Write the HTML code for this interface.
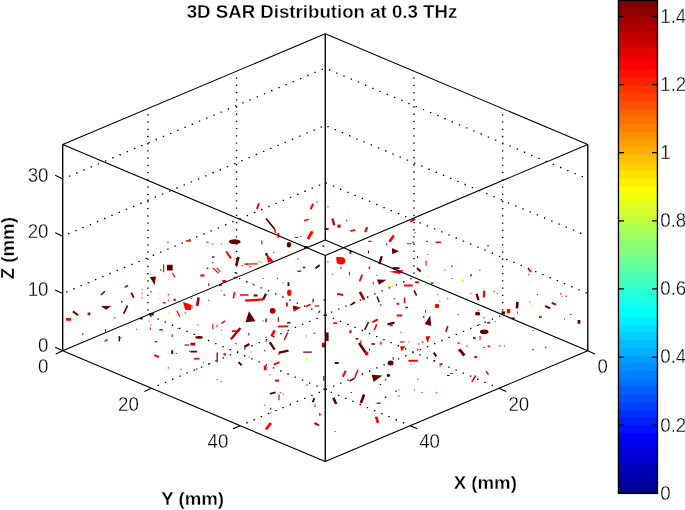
<!DOCTYPE html><html><head><meta charset="utf-8"><title>3D SAR Distribution at 0.3 THz</title>
<style>html,body{margin:0;padding:0;background:#fff;overflow:hidden}svg{display:block}text{font-family:"Liberation Sans",sans-serif;font-size:18.67px;fill:#000;stroke:#fff;stroke-width:0.3px}.b{font-weight:bold;stroke-width:0.3px}</style></head><body>
<svg width="685" height="510" viewBox="0 0 685 510">
<rect width="685" height="510" fill="#fff"/>
<path d="M235.85 77.48h1.4v1.3h-1.4zM235.85 84.7h1.4v1.3h-1.4zM235.85 91.92h1.4v1.3h-1.4zM235.85 99.14h1.4v1.3h-1.4zM235.85 106.36h1.4v1.3h-1.4zM235.85 113.58h1.4v1.3h-1.4zM235.85 120.8h1.4v1.3h-1.4zM235.85 128.02h1.4v1.3h-1.4zM235.85 135.24h1.4v1.3h-1.4zM235.85 142.46h1.4v1.3h-1.4zM235.85 149.68h1.4v1.3h-1.4zM235.85 156.9h1.4v1.3h-1.4zM235.85 164.12h1.4v1.3h-1.4zM235.85 171.34h1.4v1.3h-1.4zM235.85 178.56h1.4v1.3h-1.4zM235.85 185.78h1.4v1.3h-1.4zM235.85 193h1.4v1.3h-1.4zM235.85 200.22h1.4v1.3h-1.4zM235.85 207.44h1.4v1.3h-1.4zM235.85 214.66h1.4v1.3h-1.4zM235.85 221.88h1.4v1.3h-1.4zM235.85 229.1h1.4v1.3h-1.4zM235.85 236.32h1.4v1.3h-1.4zM235.85 243.54h1.4v1.3h-1.4zM235.85 250.76h1.4v1.3h-1.4zM235.85 257.98h1.4v1.3h-1.4zM235.85 265.2h1.4v1.3h-1.4zM235.85 272.42h1.4v1.3h-1.4zM238.85 278.05h1.4v1.3h-1.4zM246.07 281.1h1.4v1.3h-1.4zM253.29 284.14h1.4v1.3h-1.4zM260.51 287.19h1.4v1.3h-1.4zM267.73 290.24h1.4v1.3h-1.4zM274.95 293.28h1.4v1.3h-1.4zM282.17 296.33h1.4v1.3h-1.4zM289.39 299.38h1.4v1.3h-1.4zM296.61 302.42h1.4v1.3h-1.4zM303.83 305.47h1.4v1.3h-1.4zM311.05 308.52h1.4v1.3h-1.4zM318.27 311.56h1.4v1.3h-1.4zM325.49 314.61h1.4v1.3h-1.4zM332.71 317.66h1.4v1.3h-1.4zM339.93 320.71h1.4v1.3h-1.4zM347.15 323.75h1.4v1.3h-1.4zM354.37 326.8h1.4v1.3h-1.4zM361.59 329.85h1.4v1.3h-1.4zM368.81 332.89h1.4v1.3h-1.4zM376.03 335.94h1.4v1.3h-1.4zM383.25 338.99h1.4v1.3h-1.4zM390.47 342.03h1.4v1.3h-1.4zM397.69 345.08h1.4v1.3h-1.4zM404.91 348.13h1.4v1.3h-1.4zM412.13 351.18h1.4v1.3h-1.4zM419.35 354.22h1.4v1.3h-1.4zM426.57 357.27h1.4v1.3h-1.4zM433.79 360.32h1.4v1.3h-1.4zM441.01 363.36h1.4v1.3h-1.4zM448.23 366.41h1.4v1.3h-1.4zM455.45 369.46h1.4v1.3h-1.4zM462.67 372.5h1.4v1.3h-1.4zM469.89 375.55h1.4v1.3h-1.4zM477.11 378.6h1.4v1.3h-1.4zM484.33 381.64h1.4v1.3h-1.4zM491.55 384.69h1.4v1.3h-1.4zM147.15 114.21h1.4v1.3h-1.4zM147.15 121.43h1.4v1.3h-1.4zM147.15 128.65h1.4v1.3h-1.4zM147.15 135.87h1.4v1.3h-1.4zM147.15 143.09h1.4v1.3h-1.4zM147.15 150.31h1.4v1.3h-1.4zM147.15 157.53h1.4v1.3h-1.4zM147.15 164.75h1.4v1.3h-1.4zM147.15 171.97h1.4v1.3h-1.4zM147.15 179.19h1.4v1.3h-1.4zM147.15 186.41h1.4v1.3h-1.4zM147.15 193.63h1.4v1.3h-1.4zM147.15 200.85h1.4v1.3h-1.4zM147.15 208.07h1.4v1.3h-1.4zM147.15 215.29h1.4v1.3h-1.4zM147.15 222.51h1.4v1.3h-1.4zM147.15 229.73h1.4v1.3h-1.4zM147.15 236.95h1.4v1.3h-1.4zM147.15 244.17h1.4v1.3h-1.4zM147.15 251.39h1.4v1.3h-1.4zM147.15 258.61h1.4v1.3h-1.4zM147.15 265.83h1.4v1.3h-1.4zM147.15 273.05h1.4v1.3h-1.4zM147.15 280.27h1.4v1.3h-1.4zM147.15 287.49h1.4v1.3h-1.4zM147.15 294.71h1.4v1.3h-1.4zM147.15 301.93h1.4v1.3h-1.4zM147.15 309.15h1.4v1.3h-1.4zM150.15 315.48h1.4v1.3h-1.4zM157.37 318.53h1.4v1.3h-1.4zM164.59 321.57h1.4v1.3h-1.4zM171.81 324.62h1.4v1.3h-1.4zM179.03 327.67h1.4v1.3h-1.4zM186.25 330.72h1.4v1.3h-1.4zM193.47 333.76h1.4v1.3h-1.4zM200.69 336.81h1.4v1.3h-1.4zM207.91 339.86h1.4v1.3h-1.4zM215.13 342.9h1.4v1.3h-1.4zM222.35 345.95h1.4v1.3h-1.4zM229.57 349h1.4v1.3h-1.4zM236.79 352.04h1.4v1.3h-1.4zM244.01 355.09h1.4v1.3h-1.4zM251.23 358.14h1.4v1.3h-1.4zM258.45 361.19h1.4v1.3h-1.4zM265.67 364.23h1.4v1.3h-1.4zM272.89 367.28h1.4v1.3h-1.4zM280.11 370.33h1.4v1.3h-1.4zM287.33 373.37h1.4v1.3h-1.4zM294.55 376.42h1.4v1.3h-1.4zM301.77 379.47h1.4v1.3h-1.4zM308.99 382.51h1.4v1.3h-1.4zM316.21 385.56h1.4v1.3h-1.4zM323.43 388.61h1.4v1.3h-1.4zM330.65 391.65h1.4v1.3h-1.4zM337.87 394.7h1.4v1.3h-1.4zM345.09 397.75h1.4v1.3h-1.4zM352.31 400.8h1.4v1.3h-1.4zM359.53 403.84h1.4v1.3h-1.4zM366.75 406.89h1.4v1.3h-1.4zM373.97 409.94h1.4v1.3h-1.4zM381.19 412.98h1.4v1.3h-1.4zM388.41 416.03h1.4v1.3h-1.4zM395.63 419.08h1.4v1.3h-1.4zM402.85 422.12h1.4v1.3h-1.4zM413.25 77.48h1.4v1.3h-1.4zM413.25 84.7h1.4v1.3h-1.4zM413.25 91.92h1.4v1.3h-1.4zM413.25 99.14h1.4v1.3h-1.4zM413.25 106.36h1.4v1.3h-1.4zM413.25 113.58h1.4v1.3h-1.4zM413.25 120.8h1.4v1.3h-1.4zM413.25 128.02h1.4v1.3h-1.4zM413.25 135.24h1.4v1.3h-1.4zM413.25 142.46h1.4v1.3h-1.4zM413.25 149.68h1.4v1.3h-1.4zM413.25 156.9h1.4v1.3h-1.4zM413.25 164.12h1.4v1.3h-1.4zM413.25 171.34h1.4v1.3h-1.4zM413.25 178.56h1.4v1.3h-1.4zM413.25 185.78h1.4v1.3h-1.4zM413.25 193h1.4v1.3h-1.4zM413.25 200.22h1.4v1.3h-1.4zM413.25 207.44h1.4v1.3h-1.4zM413.25 214.66h1.4v1.3h-1.4zM413.25 221.88h1.4v1.3h-1.4zM413.25 229.1h1.4v1.3h-1.4zM413.25 236.32h1.4v1.3h-1.4zM413.25 243.54h1.4v1.3h-1.4zM413.25 250.76h1.4v1.3h-1.4zM413.25 257.98h1.4v1.3h-1.4zM413.25 265.2h1.4v1.3h-1.4zM413.25 272.42h1.4v1.3h-1.4zM410.25 278.05h1.4v1.3h-1.4zM403.03 281.1h1.4v1.3h-1.4zM395.81 284.14h1.4v1.3h-1.4zM388.59 287.19h1.4v1.3h-1.4zM381.37 290.24h1.4v1.3h-1.4zM374.15 293.28h1.4v1.3h-1.4zM366.93 296.33h1.4v1.3h-1.4zM359.71 299.38h1.4v1.3h-1.4zM352.49 302.42h1.4v1.3h-1.4zM345.27 305.47h1.4v1.3h-1.4zM338.05 308.52h1.4v1.3h-1.4zM330.83 311.56h1.4v1.3h-1.4zM323.61 314.61h1.4v1.3h-1.4zM316.39 317.66h1.4v1.3h-1.4zM309.17 320.71h1.4v1.3h-1.4zM301.95 323.75h1.4v1.3h-1.4zM294.73 326.8h1.4v1.3h-1.4zM287.51 329.85h1.4v1.3h-1.4zM280.29 332.89h1.4v1.3h-1.4zM273.07 335.94h1.4v1.3h-1.4zM265.85 338.99h1.4v1.3h-1.4zM258.63 342.03h1.4v1.3h-1.4zM251.41 345.08h1.4v1.3h-1.4zM244.19 348.13h1.4v1.3h-1.4zM236.97 351.18h1.4v1.3h-1.4zM229.75 354.22h1.4v1.3h-1.4zM222.53 357.27h1.4v1.3h-1.4zM215.31 360.32h1.4v1.3h-1.4zM208.09 363.36h1.4v1.3h-1.4zM200.87 366.41h1.4v1.3h-1.4zM193.65 369.46h1.4v1.3h-1.4zM186.43 372.5h1.4v1.3h-1.4zM179.21 375.55h1.4v1.3h-1.4zM171.99 378.6h1.4v1.3h-1.4zM164.77 381.64h1.4v1.3h-1.4zM157.55 384.69h1.4v1.3h-1.4zM501.95 114.21h1.4v1.3h-1.4zM501.95 121.43h1.4v1.3h-1.4zM501.95 128.65h1.4v1.3h-1.4zM501.95 135.87h1.4v1.3h-1.4zM501.95 143.09h1.4v1.3h-1.4zM501.95 150.31h1.4v1.3h-1.4zM501.95 157.53h1.4v1.3h-1.4zM501.95 164.75h1.4v1.3h-1.4zM501.95 171.97h1.4v1.3h-1.4zM501.95 179.19h1.4v1.3h-1.4zM501.95 186.41h1.4v1.3h-1.4zM501.95 193.63h1.4v1.3h-1.4zM501.95 200.85h1.4v1.3h-1.4zM501.95 208.07h1.4v1.3h-1.4zM501.95 215.29h1.4v1.3h-1.4zM501.95 222.51h1.4v1.3h-1.4zM501.95 229.73h1.4v1.3h-1.4zM501.95 236.95h1.4v1.3h-1.4zM501.95 244.17h1.4v1.3h-1.4zM501.95 251.39h1.4v1.3h-1.4zM501.95 258.61h1.4v1.3h-1.4zM501.95 265.83h1.4v1.3h-1.4zM501.95 273.05h1.4v1.3h-1.4zM501.95 280.27h1.4v1.3h-1.4zM501.95 287.49h1.4v1.3h-1.4zM501.95 294.71h1.4v1.3h-1.4zM501.95 301.93h1.4v1.3h-1.4zM501.95 309.15h1.4v1.3h-1.4zM498.95 315.48h1.4v1.3h-1.4zM491.73 318.53h1.4v1.3h-1.4zM484.51 321.57h1.4v1.3h-1.4zM477.29 324.62h1.4v1.3h-1.4zM470.07 327.67h1.4v1.3h-1.4zM462.85 330.72h1.4v1.3h-1.4zM455.63 333.76h1.4v1.3h-1.4zM448.41 336.81h1.4v1.3h-1.4zM441.19 339.86h1.4v1.3h-1.4zM433.97 342.9h1.4v1.3h-1.4zM426.75 345.95h1.4v1.3h-1.4zM419.53 349h1.4v1.3h-1.4zM412.31 352.04h1.4v1.3h-1.4zM405.09 355.09h1.4v1.3h-1.4zM397.87 358.14h1.4v1.3h-1.4zM390.65 361.19h1.4v1.3h-1.4zM383.43 364.23h1.4v1.3h-1.4zM376.21 367.28h1.4v1.3h-1.4zM368.99 370.33h1.4v1.3h-1.4zM361.77 373.37h1.4v1.3h-1.4zM354.55 376.42h1.4v1.3h-1.4zM347.33 379.47h1.4v1.3h-1.4zM340.11 382.51h1.4v1.3h-1.4zM332.89 385.56h1.4v1.3h-1.4zM325.67 388.61h1.4v1.3h-1.4zM318.45 391.65h1.4v1.3h-1.4zM311.23 394.7h1.4v1.3h-1.4zM304.01 397.75h1.4v1.3h-1.4zM296.79 400.8h1.4v1.3h-1.4zM289.57 403.84h1.4v1.3h-1.4zM282.35 406.89h1.4v1.3h-1.4zM275.13 409.94h1.4v1.3h-1.4zM267.91 412.98h1.4v1.3h-1.4zM260.69 416.03h1.4v1.3h-1.4zM253.47 419.08h1.4v1.3h-1.4zM246.25 422.12h1.4v1.3h-1.4zM66.1 291.14h1.4v1.3h-1.4zM73.32 288.1h1.4v1.3h-1.4zM80.54 285.05h1.4v1.3h-1.4zM87.76 282h1.4v1.3h-1.4zM94.98 278.95h1.4v1.3h-1.4zM102.2 275.91h1.4v1.3h-1.4zM109.42 272.86h1.4v1.3h-1.4zM116.64 269.81h1.4v1.3h-1.4zM123.86 266.77h1.4v1.3h-1.4zM131.08 263.72h1.4v1.3h-1.4zM138.3 260.67h1.4v1.3h-1.4zM145.52 257.63h1.4v1.3h-1.4zM152.74 254.58h1.4v1.3h-1.4zM159.96 251.53h1.4v1.3h-1.4zM167.18 248.48h1.4v1.3h-1.4zM174.4 245.44h1.4v1.3h-1.4zM181.62 242.39h1.4v1.3h-1.4zM188.84 239.34h1.4v1.3h-1.4zM196.06 236.3h1.4v1.3h-1.4zM203.28 233.25h1.4v1.3h-1.4zM210.5 230.2h1.4v1.3h-1.4zM217.72 227.16h1.4v1.3h-1.4zM224.94 224.11h1.4v1.3h-1.4zM232.16 221.06h1.4v1.3h-1.4zM239.38 218.02h1.4v1.3h-1.4zM246.6 214.97h1.4v1.3h-1.4zM253.82 211.92h1.4v1.3h-1.4zM261.04 208.87h1.4v1.3h-1.4zM268.26 205.83h1.4v1.3h-1.4zM275.48 202.78h1.4v1.3h-1.4zM282.7 199.73h1.4v1.3h-1.4zM289.92 196.69h1.4v1.3h-1.4zM297.14 193.64h1.4v1.3h-1.4zM304.36 190.59h1.4v1.3h-1.4zM311.58 187.55h1.4v1.3h-1.4zM318.8 184.5h1.4v1.3h-1.4zM325.6 182.52h1.4v1.3h-1.4zM332.82 185.56h1.4v1.3h-1.4zM340.04 188.61h1.4v1.3h-1.4zM347.26 191.66h1.4v1.3h-1.4zM354.48 194.7h1.4v1.3h-1.4zM361.7 197.75h1.4v1.3h-1.4zM368.92 200.8h1.4v1.3h-1.4zM376.14 203.84h1.4v1.3h-1.4zM383.36 206.89h1.4v1.3h-1.4zM390.58 209.94h1.4v1.3h-1.4zM397.8 212.98h1.4v1.3h-1.4zM405.02 216.03h1.4v1.3h-1.4zM412.24 219.08h1.4v1.3h-1.4zM419.46 222.13h1.4v1.3h-1.4zM426.68 225.17h1.4v1.3h-1.4zM433.9 228.22h1.4v1.3h-1.4zM441.12 231.27h1.4v1.3h-1.4zM448.34 234.31h1.4v1.3h-1.4zM455.56 237.36h1.4v1.3h-1.4zM462.78 240.41h1.4v1.3h-1.4zM470 243.45h1.4v1.3h-1.4zM477.22 246.5h1.4v1.3h-1.4zM484.44 249.55h1.4v1.3h-1.4zM491.66 252.6h1.4v1.3h-1.4zM498.88 255.64h1.4v1.3h-1.4zM506.1 258.69h1.4v1.3h-1.4zM513.32 261.74h1.4v1.3h-1.4zM520.54 264.78h1.4v1.3h-1.4zM527.76 267.83h1.4v1.3h-1.4zM534.98 270.88h1.4v1.3h-1.4zM542.2 273.92h1.4v1.3h-1.4zM549.42 276.97h1.4v1.3h-1.4zM556.64 280.02h1.4v1.3h-1.4zM563.86 283.06h1.4v1.3h-1.4zM571.08 286.11h1.4v1.3h-1.4zM578.3 289.16h1.4v1.3h-1.4zM585.52 292.21h1.4v1.3h-1.4zM68 233.06h1.4v1.3h-1.4zM75.22 230.02h1.4v1.3h-1.4zM82.44 226.97h1.4v1.3h-1.4zM89.66 223.92h1.4v1.3h-1.4zM96.88 220.87h1.4v1.3h-1.4zM104.1 217.83h1.4v1.3h-1.4zM111.32 214.78h1.4v1.3h-1.4zM118.54 211.73h1.4v1.3h-1.4zM125.76 208.69h1.4v1.3h-1.4zM132.98 205.64h1.4v1.3h-1.4zM140.2 202.59h1.4v1.3h-1.4zM147.42 199.55h1.4v1.3h-1.4zM154.64 196.5h1.4v1.3h-1.4zM161.86 193.45h1.4v1.3h-1.4zM169.08 190.41h1.4v1.3h-1.4zM176.3 187.36h1.4v1.3h-1.4zM183.52 184.31h1.4v1.3h-1.4zM190.74 181.26h1.4v1.3h-1.4zM197.96 178.22h1.4v1.3h-1.4zM205.18 175.17h1.4v1.3h-1.4zM212.4 172.12h1.4v1.3h-1.4zM219.62 169.08h1.4v1.3h-1.4zM226.84 166.03h1.4v1.3h-1.4zM234.06 162.98h1.4v1.3h-1.4zM241.28 159.94h1.4v1.3h-1.4zM248.5 156.89h1.4v1.3h-1.4zM255.72 153.84h1.4v1.3h-1.4zM262.94 150.79h1.4v1.3h-1.4zM270.16 147.75h1.4v1.3h-1.4zM277.38 144.7h1.4v1.3h-1.4zM284.6 141.65h1.4v1.3h-1.4zM291.82 138.61h1.4v1.3h-1.4zM299.04 135.56h1.4v1.3h-1.4zM306.26 132.51h1.4v1.3h-1.4zM313.48 129.47h1.4v1.3h-1.4zM320.7 126.42h1.4v1.3h-1.4zM327.32 125.96h1.4v1.3h-1.4zM334.54 129.01h1.4v1.3h-1.4zM341.76 132.06h1.4v1.3h-1.4zM348.98 135.1h1.4v1.3h-1.4zM356.2 138.15h1.4v1.3h-1.4zM363.42 141.2h1.4v1.3h-1.4zM370.64 144.25h1.4v1.3h-1.4zM377.86 147.29h1.4v1.3h-1.4zM385.08 150.34h1.4v1.3h-1.4zM392.3 153.39h1.4v1.3h-1.4zM399.52 156.43h1.4v1.3h-1.4zM406.74 159.48h1.4v1.3h-1.4zM413.96 162.53h1.4v1.3h-1.4zM421.18 165.57h1.4v1.3h-1.4zM428.4 168.62h1.4v1.3h-1.4zM435.62 171.67h1.4v1.3h-1.4zM442.84 174.71h1.4v1.3h-1.4zM450.06 177.76h1.4v1.3h-1.4zM457.28 180.81h1.4v1.3h-1.4zM464.5 183.86h1.4v1.3h-1.4zM471.72 186.9h1.4v1.3h-1.4zM478.94 189.95h1.4v1.3h-1.4zM486.16 193h1.4v1.3h-1.4zM493.38 196.04h1.4v1.3h-1.4zM500.6 199.09h1.4v1.3h-1.4zM507.82 202.14h1.4v1.3h-1.4zM515.04 205.18h1.4v1.3h-1.4zM522.26 208.23h1.4v1.3h-1.4zM529.48 211.28h1.4v1.3h-1.4zM536.7 214.32h1.4v1.3h-1.4zM543.92 217.37h1.4v1.3h-1.4zM551.14 220.42h1.4v1.3h-1.4zM558.36 223.47h1.4v1.3h-1.4zM565.58 226.51h1.4v1.3h-1.4zM572.8 229.56h1.4v1.3h-1.4zM580.02 232.61h1.4v1.3h-1.4zM68.9 175.4h1.4v1.3h-1.4zM76.12 172.36h1.4v1.3h-1.4zM83.34 169.31h1.4v1.3h-1.4zM90.56 166.26h1.4v1.3h-1.4zM97.78 163.22h1.4v1.3h-1.4zM105 160.17h1.4v1.3h-1.4zM112.22 157.12h1.4v1.3h-1.4zM119.44 154.08h1.4v1.3h-1.4zM126.66 151.03h1.4v1.3h-1.4zM133.88 147.98h1.4v1.3h-1.4zM141.1 144.94h1.4v1.3h-1.4zM148.32 141.89h1.4v1.3h-1.4zM155.54 138.84h1.4v1.3h-1.4zM162.76 135.79h1.4v1.3h-1.4zM169.98 132.75h1.4v1.3h-1.4zM177.2 129.7h1.4v1.3h-1.4zM184.42 126.65h1.4v1.3h-1.4zM191.64 123.61h1.4v1.3h-1.4zM198.86 120.56h1.4v1.3h-1.4zM206.08 117.51h1.4v1.3h-1.4zM213.3 114.47h1.4v1.3h-1.4zM220.52 111.42h1.4v1.3h-1.4zM227.74 108.37h1.4v1.3h-1.4zM234.96 105.32h1.4v1.3h-1.4zM242.18 102.28h1.4v1.3h-1.4zM249.4 99.23h1.4v1.3h-1.4zM256.62 96.18h1.4v1.3h-1.4zM263.84 93.14h1.4v1.3h-1.4zM271.06 90.09h1.4v1.3h-1.4zM278.28 87.04h1.4v1.3h-1.4zM285.5 84h1.4v1.3h-1.4zM292.72 80.95h1.4v1.3h-1.4zM299.94 77.9h1.4v1.3h-1.4zM307.16 74.86h1.4v1.3h-1.4zM314.38 71.81h1.4v1.3h-1.4zM321.6 68.76h1.4v1.3h-1.4zM328.88 69.34h1.4v1.3h-1.4zM336.1 72.39h1.4v1.3h-1.4zM343.32 75.44h1.4v1.3h-1.4zM350.54 78.48h1.4v1.3h-1.4zM357.76 81.53h1.4v1.3h-1.4zM364.98 84.58h1.4v1.3h-1.4zM372.2 87.63h1.4v1.3h-1.4zM379.42 90.67h1.4v1.3h-1.4zM386.64 93.72h1.4v1.3h-1.4zM393.86 96.77h1.4v1.3h-1.4zM401.08 99.81h1.4v1.3h-1.4zM408.3 102.86h1.4v1.3h-1.4zM415.52 105.91h1.4v1.3h-1.4zM422.74 108.95h1.4v1.3h-1.4zM429.96 112h1.4v1.3h-1.4zM437.18 115.05h1.4v1.3h-1.4zM444.4 118.1h1.4v1.3h-1.4zM451.62 121.14h1.4v1.3h-1.4zM458.84 124.19h1.4v1.3h-1.4zM466.06 127.24h1.4v1.3h-1.4zM473.28 130.28h1.4v1.3h-1.4zM480.5 133.33h1.4v1.3h-1.4zM487.72 136.38h1.4v1.3h-1.4zM494.94 139.42h1.4v1.3h-1.4zM502.16 142.47h1.4v1.3h-1.4zM509.38 145.52h1.4v1.3h-1.4zM516.6 148.56h1.4v1.3h-1.4zM523.82 151.61h1.4v1.3h-1.4zM531.04 154.66h1.4v1.3h-1.4zM538.26 157.71h1.4v1.3h-1.4zM545.48 160.75h1.4v1.3h-1.4zM552.7 163.8h1.4v1.3h-1.4zM559.92 166.85h1.4v1.3h-1.4zM567.14 169.89h1.4v1.3h-1.4zM574.36 172.94h1.4v1.3h-1.4zM581.58 175.99h1.4v1.3h-1.4z" fill="#000"/>
<g>
<path d="M160.2 269.2h1.1v1.5h-1.1zM167.4 241.4h1.1v1.9h-1.1zM66.1 318h4.9v2.7h-4.9zM114.1 317.2h1.3v1.3h-1.3zM150.2 291.1h1.3v1.3h-1.3zM167.8 294.1h1.1v1.1h-1.1zM167.8 299.8h1.1v1.1h-1.1zM162.9 302.1h2.7v1.5h-2.7zM173.5 298.8h2.3v2.3h-2.3zM148.4 320.7h1.1v1.1h-1.1zM150.3 324.5h1.1v1.1h-1.1zM184.5 312.5h1.9v1.1h-1.9zM277.5 232.9h1.9v4.8h-1.9zM206.3 241.7h2.3v1.1h-2.3zM212.2 243.6h1.1v1.1h-1.1zM220.9 243.7h1v1h-1zM265.7 252.7L273.7 261.3L267.9 262.6zM273.1 252.2h1.1v1.1h-1.1zM206.5 267.6h1.9v1.5h-1.9zM200.3 274.6h4.2v1.9h-4.2zM233.7 276.7h3.8v1.5h-3.8zM222.3 279.9h3.8v2.7h-3.8zM208.1 283.3h1v2.7h-1zM316.4 201.8h1.1v1.1h-1.1zM294.6 237h3.8v1.1h-3.8zM297.4 258.3h1.1v1.1h-1.1zM297.4 270.6h3.8v1.5h-3.8zM276.9 277.8h1.1v1.1h-1.1zM282.6 282.2h1.1v1.1h-1.1zM252.2 283.5h1.1v1.1h-1.1zM262.7 277.9h1v1h-1zM249.9 265.9h1.1v1.1h-1.1zM189.9 239.4h1v1.9h-1zM337.3 224.4h3.4v3.4h-3.4zM346 219.8h1.1v1.1h-1.1zM368.1 240.8h3.4v1.1h-3.4zM386 243.2h1.1v1.9h-1.1zM336.2 257.1h2.7v2.7h-2.7zM340.3 266.8h1.1v2.3h-1.1zM327.4 261.3h1.1v1.1h-1.1zM331.8 273.7h1.1v1.1h-1.1zM348.9 271.7h1.1v3.8h-1.1zM368.7 266.6h1.5v2.7h-1.5zM388.8 271.7L403.7 269.8L399.8 274zM372.7 281.8h1.1v2.7h-1.1zM376.5 275h1.1v1.1h-1.1zM407 243.2h4.8v1.1h-4.8zM435.6 241.6h5.3v1.3h-5.3zM425.5 260.5h1.1v5.3h-1.1zM426.9 254.1h1v1h-1zM415.1 281.3h3.8v1.9h-3.8zM404.1 284.5h8.6v1.9h-8.6zM431 282.2h2.3v1.9h-2.3zM487.3 245h1.5v1.5h-1.5zM451.3 265h1.1v2.3h-1.1zM528 274.2h1v1h-1zM470.3 292.8h1.1v1h-1.1zM496.6 292.8h1v1h-1zM536.9 294.1h1.1v1.1h-1.1zM529.3 301.4h1v1h-1zM560.3 292.9h1.1v1.5h-1.1zM561.6 295.7h1.1v1h-1.1zM506.8 309.1h3.4v4.2h-3.4zM477.8 309.7h1.5v1h-1.5zM517 311.7h1v1.9h-1zM539 316.1h2.7v1.9h-2.7zM483.7 317.3h1.1v1.1h-1.1zM239.9 294.2h8.6v1.5h-8.6zM223.5 294.2h1.5v1.5h-1.5zM220.9 290.3h1v1h-1zM286 302.6h1.9v3.8h-1.9zM292.7 305.6L301.2 307.5L293.6 311.7zM312.4 298.8h1.5v3.8h-1.5zM270.4 308.5h1.9v1.9h-1.9zM262.7 320.3h1v1h-1zM277.9 325.4h10.5v1.9h-10.5zM212.2 324.2h1.1v4.8h-1.1zM216.5 324.6h1v2.7h-1zM220.9 329.8h1v1h-1zM197.4 324.5h1.1v1.1h-1.1zM231.8 330.2h7.6v1.9h-7.6zM193.8 358.1h5.7v1.5h-5.7zM265.3 340.6h1.5v1.1h-1.5zM278.4 352.6h1.1v2.7h-1.1zM223.5 353.3h2.3v2.3h-2.3zM263.8 365.4h2.7v4.8h-2.7zM275.2 379.4h3.8v2.3h-3.8zM269.3 374.3h1v1h-1zM195.7 368.6h1.9v1.1h-1.9zM216.7 379.1h1v1h-1zM220.9 381.2h1v1h-1zM313.4 332.7h2.3v1h-2.3zM305.8 335.5h1v1h-1zM191.4 305.1h1v2.7h-1zM191 297.9h1v1h-1zM264 350.1h1.1v1.1h-1.1zM250.7 351.5h1v1h-1zM248.8 356.5h1v1h-1zM380.3 304.1h1.1v1.9h-1.1zM403.8 297.5h1.5v5.7h-1.5zM396.6 302.8h2.7v1.9h-2.7zM393.6 298h1.1v1.5h-1.1zM396.6 314.6h5.7v1.9h-5.7zM390 324.8h2.7v1.5h-2.7zM349.3 330.3h2.3v2.7h-2.3zM333.3 322.2h3.8v1.9h-3.8zM425.5 336.4L430.3 336L427.4 343.1zM400.2 346.3L405.6 346.3L401.4 351.6zM408.5 341.6h1v1h-1zM364.9 351.8h3.4v3.4h-3.4zM360.3 340.2h1.1v3.8h-1.1zM368.9 348.4h1.1v2.7h-1.1zM380.1 341.8h1.5v2.7h-1.5zM408.4 359.8h9.5v1.9h-9.5zM387.5 363.2h1.9v1.5h-1.9zM439.6 363h1.1v3.8h-1.1zM425 310h1v2.7h-1zM418.3 343.3h1.1v1.5h-1.1zM421.7 341.6h1.9v1.1h-1.9zM417.4 348.4h1v2.7h-1zM400.3 331.7h1v1h-1zM384.8 379h1.5v1.5h-1.5zM417.3 378.6h1.1v1.1h-1.1zM410.4 363.5h1v1h-1zM323.4 299.2h1.5v1.5h-1.5zM439.3 300.8h1v1h-1zM437.4 294.1h1v1h-1zM473 337.1h2.7v1.9h-2.7zM479.5 336.1h1.1v3.8h-1.1zM458.4 349.1h1.5v2.3h-1.5zM457.6 342.2h1.9v1.9h-1.9zM466 345.5h1.5v1h-1.5zM483.5 347h1.5v1.1h-1.5zM487.6 345.6h2.7v1.5h-2.7zM499 345.5h1.5v1h-1.5zM504 345.5h1.1v1h-1.1zM474.3 356.1h2.7v1.9h-2.7zM532.3 348.7h1.5v1.5h-1.5zM544.9 346.8h1.5v1.5h-1.5zM450 373h3v1.1h-3zM279.8 392.1h1v1h-1zM283 393.4h1v1h-1zM264 404.7h1.1v1.1h-1.1zM314.5 404.5h1.1v2.7h-1.1zM319.1 413.1h1.1v2.7h-1.1zM362.8 396h1v2.7h-1zM376.7 402.6h3.8v1.5h-3.8zM334.6 431h1.1v1.1h-1.1zM395.3 390.5h1.5v1.5h-1.5zM398.4 389.2h1v1h-1zM398.3 395h1.1v1.5h-1.1zM413.9 389.5h1.1v1.1h-1.1zM421.5 392h1.1v1.1h-1.1zM435.8 392.1h1v1h-1zM319.9 413.7h1v1.5h-1zM120.1 337.5h1.5v1.1h-1.5zM135.9 328.7h1.1v1.1h-1.1zM149.8 327.2h1v2.7h-1zM159.2 329.1h3.8v1.5h-3.8zM154.7 341.1h2.7v1.5h-2.7zM189.1 350.8h1.1v1.1h-1.1zM167.8 367.3h1.1v1.1h-1.1zM180.5 368.8h1.1v1.1h-1.1zM183 302L189.5 304L185 309zM185.4 304.6h5.6v5.4h-5.6z" fill="#ff0000"/>
<path d="M87.6 312.5h2.7v2.7h-2.7zM141.6 288.8h1v1h-1zM141.6 293.2h1v1h-1zM141.6 297.6h1v1h-1zM261.3 240.4h1.1v3.8h-1.1zM241.7 265.1h1.1v1.1h-1.1zM324.8 228h3.8v1.9h-3.8zM487.1 322h3v1.5h-3zM265.3 318.4h1.5v3.8h-1.5zM277.8 316.9h1.1v4.8h-1.1zM190.5 342.7h4.8v2.7h-4.8zM405.2 306.8h2.7v1.5h-2.7zM321.9 342.7h3.8v4.6h-3.8zM323.2 375.9h1.1v4.8h-1.1zM270.2 407.8h1.1v1.9h-1.1zM350.6 392h1.5v1.1h-1.5zM171 350.2h2.3v3.8h-2.3z" fill="#b40000"/>
<path d="M149.7 277.1L156 276.6L154.7 285.1zM167 264.8h5.7v5.7h-5.7zM100.9 306L111.3 306L106 309.8zM121 301.1h1.5v1.5h-1.5zM148.8 312.9h4.9v2.7h-4.9zM140 317.5h2.7v1.9h-2.7zM212.1 256.2h2.3v1.5h-2.3zM212.2 262.1h1.1v1.1h-1.1zM265.3 252.9h2.3v2.7h-2.3zM246.3 263.6h1.5v1.1h-1.5zM234.5 272.1h1.5v1.1h-1.5zM219.1 284.1h2.7v1.9h-2.7zM300.3 236.1h1v1h-1zM304.1 246.1h3.8v1.9h-3.8zM302.9 266.8h2.3v1.5h-2.3zM287.5 282.2h1.9v3.8h-1.9zM327.4 206.2h1.1v1.1h-1.1zM391.9 248L398.9 251.2L392.2 254.3zM322.5 245.3h1.9v1.5h-1.9zM349.5 249.9h1.9v3.8h-1.9zM368 250.5h1v2.7h-1zM377 279.4L386.5 279.7L378.9 284.7zM412.2 241.8h1.9v1h-1.9zM425.9 240.8h1.9v1h-1.9zM417 256h1v1.9h-1zM444.6 269.7h1v1h-1zM414.6 232.3h1v1h-1zM451.4 278h1v1h-1zM479.3 269.7h1.1v1.1h-1.1zM470.2 274.3h1.5v1.9h-1.5zM493.5 291.2h1.1v1.1h-1.1zM565.6 295.7h1.5v1h-1.5zM501.5 311.2h3.4v3.4h-3.4zM510.8 317.6h3.8v1.5h-3.8zM564.1 318.5h1v1h-1zM570.2 314h1.1v1.1h-1.1zM577.6 319.9h2.7v3.8h-2.7zM457.7 314.1h1v1h-1zM494.7 321.3h1v1h-1zM479.3 324h1v1h-1zM253.7 294.6h3.8v1.9h-3.8zM208.1 299.8h1v1h-1zM293.2 306.2h3.4v2.7h-3.4zM314.6 305.4h4.8v1.1h-4.8zM248.9 311.3L255.6 321.2L245.5 322.2zM287.1 322h3.4v1.5h-3.4zM190.5 350.7h6.7v1.9h-6.7zM265.5 336.8h1.1v1.1h-1.1zM303.2 351.6h8.6v1.1h-8.6zM202.8 362.2h1v1h-1zM209.5 362.9h1v1h-1zM319.2 310.6h1v1.5h-1zM248.4 332.8h1v2.7h-1zM235.4 343.1h1.1v1.1h-1.1zM436.2 305.3h1.5v1.5h-1.5zM430.3 315.5L431.2 326L424.6 324.1zM325.9 332.5h2.7v8.6h-2.7zM399.8 341.6h4.8v1h-4.8zM371.3 343.3h3.8v1.5h-3.8zM355.7 338h2.7v1.5h-2.7zM392.7 357h1v2.7h-1zM371.7 374.8L382.4 375.4L373.6 382.1zM334.8 362.1h3.8v1.9h-3.8zM433.3 360h1.5v1.5h-1.5zM422.9 316.3h1.5v1.5h-1.5zM447 374.9h2.7v1h-2.7zM447.3 298.3h1v1h-1zM532.5 329.9h1.1v1.1h-1.1zM278.5 394.5h1v5.7h-1zM270.3 412.4h1v1h-1zM306.4 384.2h1v1.5h-1zM384.8 396.5h1.5v1.5h-1.5zM375.9 417.1h1.1v2.3h-1.1zM379.7 384.1h1.5v1h-1.5zM82.3 333.3h1v1.9h-1zM105.1 329.1h1v2.7h-1zM118.6 335.9h1.5v5.7h-1.5zM171.7 334.2h1v2.7h-1zM175.8 353.1h1v1h-1zM184.6 344.5h4.8v1.1h-4.8zM177.4 328h1v1h-1z" fill="#640000"/>
<path d="M114.1 323.4h1.3v1.3h-1.3zM158.7 292.9h1v1.5h-1zM158.7 298.6h1v1.5h-1zM158.7 303.6h1v1.9h-1zM167.8 311.7h1.1v1.9h-1.1zM291 243.4h1.5v1.5h-1.5zM288.1 251h1.5v1.5h-1.5zM257 260.9h4.8v1.9h-4.8zM312.1 230.1h1.9v1.5h-1.9zM427.2 276.5h2.3v1.1h-2.3zM386.5 285.7h7.6v1h-7.6zM461.6 279.6h1.9v1.9h-1.9zM483.5 288.7h1.5v1.1h-1.5zM531.6 304.9h1.5v1.5h-1.5zM258.8 298.2h1.1v1.1h-1.1zM290 290h1.5v1.5h-1.5zM306.4 357h1v3.8h-1zM327.2 318.8h1.5v1h-1.5zM270 422.8h1.5v1.5h-1.5zM265.5 429.3h1v1h-1z" fill="#ffe800"/>
<ellipse cx="234.7" cy="241.7" rx="5.9" ry="2.5" fill="#640000"/>
<ellipse cx="288.9" cy="244.8" rx="2.1" ry="2.7" fill="#640000"/>
<ellipse cx="340.9" cy="260.7" rx="4.4" ry="3.8" fill="#ff0000"/>
<ellipse cx="396" cy="268.3" rx="3.8" ry="1.3" fill="#640000"/>
<ellipse cx="477.6" cy="313.7" rx="2.7" ry="1.9" fill="#640000"/>
<ellipse cx="289.2" cy="292.7" rx="2.1" ry="3.3" fill="#ff0000"/>
<ellipse cx="272.7" cy="310.8" rx="2.9" ry="2.9" fill="#b40000"/>
<ellipse cx="199.1" cy="337.4" rx="3.8" ry="1.3" fill="#640000"/>
<ellipse cx="436.9" cy="306" rx="2.3" ry="2.3" fill="#ff0000"/>
<ellipse cx="390.7" cy="363" rx="2.9" ry="2.4" fill="#640000"/>
<ellipse cx="388.4" cy="375.4" rx="1.7" ry="1.7" fill="#640000"/>
<ellipse cx="484.2" cy="331.8" rx="4.3" ry="2.4" fill="#640000"/>
<path d="M163.6 264.2L163.6 272.2M172.2 272.8L175 277M176.9 310.8L179.8 316.7M244.2 264.1L257.5 263.8M212.8 267.9L218.5 273.3M216.6 267.9L220.4 271.7" stroke="#ff0000" stroke-width="1.2" fill="none"/>
<path d="M185.9 241L190 241M274.6 229L275.6 233M304.1 220.8L308.8 219.1M225.2 320.8L221.4 323.5M287.9 332.6L284.1 339.9M376.7 324.1L374.2 330.3M358 369.7L355.2 376.4M475.7 375.5L471.9 381.8M104.7 341.3L107.5 339.4" stroke="#ff0000" stroke-width="1.5" fill="none"/>
<path d="M100.9 295L104.9 291.2M377 296.5L379.3 302.2M368.5 322.2L364.7 329.8" stroke="#640000" stroke-width="1.5" fill="none"/>
<path d="M124.6 287.4L128.1 285.5" stroke="#b40000" stroke-width="1.5" fill="none"/>
<path d="M131.3 292.7L133.8 297.7M266 218.5L274.6 229M269.8 393.9L275.6 392.4" stroke="#640000" stroke-width="1.8" fill="none"/>
<path d="M127.5 305.7L123.7 313.7M350.4 305.1L355.2 302.2M349.5 381.1L354.6 378.3M414.1 290.4L416.6 295.6" stroke="#640000" stroke-width="1.6" fill="none"/>
<path d="M72.9 311.4L78.1 315.2M315.5 268.3L319.7 265.1M417 267.9L420.8 271.4M545.1 306L550.2 308.3M238.5 362.1L241.7 365.3M433.7 352.6L436.3 356.4M314.5 398.3L312.6 402.1" stroke="#640000" stroke-width="2.0" fill="none"/>
<path d="M256.9 209L259 203.3M226.1 251.2L230.9 258.4M310.7 209L313.2 203.7M410.3 221.9L415.1 218.9M273.7 364.6L279.4 362.1M337.1 293.7L343.2 295M372.3 322.2L378 319.3M345.7 370.7L342.8 376.7M154.1 355.1L158.9 357" stroke="#ff0000" stroke-width="2.0" fill="none"/>
<path d="M238.5 256.9L236.2 265.7M517.5 301.9L516.9 308.3M359 343.1L365.6 352.6M333.3 397.7L336.2 404M364.1 394.5L360.9 403" stroke="#640000" stroke-width="2.6" fill="none"/>
<path d="M307.9 239L312.2 231.4" stroke="#ff0000" stroke-width="2.9" fill="none"/>
<path d="M332.4 218.5L334.3 225.2M240.4 327.9L230.9 339.3" stroke="#b40000" stroke-width="2.3" fill="none"/>
<path d="M350.4 231.1L355.2 229.9M234.7 291.8L233.3 298.4M305.6 306.4L310.7 304.5M486.1 371.1L488.4 374.5" stroke="#ff0000" stroke-width="1.6" fill="none"/>
<path d="M365.2 232.2L367.1 227.1M484.2 290.8L483.8 297.5M245.1 300.7L263.2 299.4" stroke="#ff0000" stroke-width="2.3" fill="none"/>
<path d="M389.4 241.7L393.8 235.6M274.6 330.3L271.4 336.4M266 429.6L270.8 423M376.1 416.7L378 423" stroke="#ff0000" stroke-width="2.6" fill="none"/>
<path d="M381.8 256.2L379.3 264.1M476.6 293.7L478.5 300.3M263.2 299.4L266 293.7M244.2 346.9L249.3 344M269.8 342.1L274.6 349.7M279 352.6L288.5 350.7M387.5 324.3L394.5 322.7" stroke="#640000" stroke-width="2.3" fill="none"/>
<path d="M362.2 274.6L359.5 281.3M528.3 269L531.4 271.8" stroke="#ff0000" stroke-width="1.8" fill="none"/>
<path d="M551.7 302.8L556.1 304.7M314.5 423L318.9 425.4" stroke="#b40000" stroke-width="2.0" fill="none"/>
<path d="M198.6 297.5L197.2 306M359.9 291.8L364.1 299.9" stroke="#b40000" stroke-width="2.6" fill="none"/>
<path d="M217.2 352.6L217.2 362.1" stroke="#b40000" stroke-width="1.4" fill="none"/>
<path d="M447.8 326L445.9 331.7" stroke="#b40000" stroke-width="1.6" fill="none"/>
<path d="M459.5 349.4L464.3 355.5" stroke="#640000" stroke-width="2.9" fill="none"/>
</g>
<path d="M62.7 350.8L325.25 461.6M325.25 461.6L587.8 350.8M587.8 350.8L325.25 240M325.25 240L62.7 350.8M62.7 144.6L325.25 255.4M325.25 255.4L587.8 144.6M587.8 144.6L325.25 33.8M325.25 33.8L62.7 144.6M62.7 350.8L55.7 354M151.4 388.23L144.4 391.43M240.1 425.66L233.1 428.86M587.8 350.8L594.8 354M499.1 388.23L506.1 391.43M410.4 425.66L417.4 428.86M62.7 350.8L55.2 347.2M62.7 293.52L55.2 289.92M62.7 236.24L55.2 232.64M62.7 178.97L55.2 175.37" stroke="#000" stroke-width="1.1" fill="none"/>
<path d="M62.7 350.8L62.7 144.6M325.25 461.6L325.25 255.4M587.8 350.8L587.8 144.6M325.25 240L325.25 33.8" stroke="#000" stroke-width="1.35" fill="none"/>
<text transform="translate(48.4,181.6) scale(1,1.07)" text-anchor="end">30</text>
<text transform="translate(48.4,237.6) scale(1,1.07)" text-anchor="end">20</text>
<text transform="translate(48.4,295.9) scale(1,1.07)" text-anchor="end">10</text>
<text transform="translate(48.4,351.5) scale(1,1.07)" text-anchor="end">0</text>
<text transform="translate(48.4,373.2) scale(1,1.07)" text-anchor="end">0</text>
<text transform="translate(118,411) scale(1,1.07)" text-anchor="start">20</text>
<text transform="translate(207.6,448.3) scale(1,1.07)" text-anchor="start">40</text>
<text transform="translate(597.6,372.6) scale(1,1.07)" text-anchor="start">0</text>
<text transform="translate(508.4,410.9) scale(1,1.07)" text-anchor="start">20</text>
<text transform="translate(419.2,447.6) scale(1,1.07)" text-anchor="start">40</text>
<text x="192.6" y="505" text-anchor="middle" class="b">Y (mm)</text>
<text x="485.3" y="489.4" text-anchor="middle" class="b">X (mm)</text>
<text transform="translate(13.8,248.2) rotate(-90)" text-anchor="middle" class="b">Z (mm)</text>
<text x="322" y="18" text-anchor="middle" class="b">3D SAR Distribution at 0.3 THz</text>
<g shape-rendering="crispEdges"><rect x="618" y="486.28" width="40" height="7.72" fill="#00008f"/><rect x="618" y="478.56" width="40" height="8.22" fill="#00009f"/><rect x="618" y="470.84" width="40" height="8.22" fill="#0000af"/><rect x="618" y="463.12" width="40" height="8.22" fill="#0000bf"/><rect x="618" y="455.41" width="40" height="8.22" fill="#0000cf"/><rect x="618" y="447.69" width="40" height="8.22" fill="#0000df"/><rect x="618" y="439.97" width="40" height="8.22" fill="#0000ef"/><rect x="618" y="432.25" width="40" height="8.22" fill="#0000ff"/><rect x="618" y="424.53" width="40" height="8.22" fill="#0010ff"/><rect x="618" y="416.81" width="40" height="8.22" fill="#0020ff"/><rect x="618" y="409.09" width="40" height="8.22" fill="#0030ff"/><rect x="618" y="401.38" width="40" height="8.22" fill="#0040ff"/><rect x="618" y="393.66" width="40" height="8.22" fill="#0050ff"/><rect x="618" y="385.94" width="40" height="8.22" fill="#0060ff"/><rect x="618" y="378.22" width="40" height="8.22" fill="#0070ff"/><rect x="618" y="370.5" width="40" height="8.22" fill="#0080ff"/><rect x="618" y="362.78" width="40" height="8.22" fill="#008fff"/><rect x="618" y="355.06" width="40" height="8.22" fill="#009fff"/><rect x="618" y="347.34" width="40" height="8.22" fill="#00afff"/><rect x="618" y="339.62" width="40" height="8.22" fill="#00bfff"/><rect x="618" y="331.91" width="40" height="8.22" fill="#00cfff"/><rect x="618" y="324.19" width="40" height="8.22" fill="#00dfff"/><rect x="618" y="316.47" width="40" height="8.22" fill="#00efff"/><rect x="618" y="308.75" width="40" height="8.22" fill="#00ffff"/><rect x="618" y="301.03" width="40" height="8.22" fill="#10ffef"/><rect x="618" y="293.31" width="40" height="8.22" fill="#20ffdf"/><rect x="618" y="285.59" width="40" height="8.22" fill="#30ffcf"/><rect x="618" y="277.88" width="40" height="8.22" fill="#40ffbf"/><rect x="618" y="270.16" width="40" height="8.22" fill="#50ffaf"/><rect x="618" y="262.44" width="40" height="8.22" fill="#60ff9f"/><rect x="618" y="254.72" width="40" height="8.22" fill="#70ff8f"/><rect x="618" y="247" width="40" height="8.22" fill="#80ff80"/><rect x="618" y="239.28" width="40" height="8.22" fill="#8fff70"/><rect x="618" y="231.56" width="40" height="8.22" fill="#9fff60"/><rect x="618" y="223.84" width="40" height="8.22" fill="#afff50"/><rect x="618" y="216.12" width="40" height="8.22" fill="#bfff40"/><rect x="618" y="208.41" width="40" height="8.22" fill="#cfff30"/><rect x="618" y="200.69" width="40" height="8.22" fill="#dfff20"/><rect x="618" y="192.97" width="40" height="8.22" fill="#efff10"/><rect x="618" y="185.25" width="40" height="8.22" fill="#ffff00"/><rect x="618" y="177.53" width="40" height="8.22" fill="#ffef00"/><rect x="618" y="169.81" width="40" height="8.22" fill="#ffdf00"/><rect x="618" y="162.09" width="40" height="8.22" fill="#ffcf00"/><rect x="618" y="154.38" width="40" height="8.22" fill="#ffbf00"/><rect x="618" y="146.66" width="40" height="8.22" fill="#ffaf00"/><rect x="618" y="138.94" width="40" height="8.22" fill="#ff9f00"/><rect x="618" y="131.22" width="40" height="8.22" fill="#ff8f00"/><rect x="618" y="123.5" width="40" height="8.22" fill="#ff8000"/><rect x="618" y="115.78" width="40" height="8.22" fill="#ff7000"/><rect x="618" y="108.06" width="40" height="8.22" fill="#ff6000"/><rect x="618" y="100.34" width="40" height="8.22" fill="#ff5000"/><rect x="618" y="92.62" width="40" height="8.22" fill="#ff4000"/><rect x="618" y="84.91" width="40" height="8.22" fill="#ff3000"/><rect x="618" y="77.19" width="40" height="8.22" fill="#ff2000"/><rect x="618" y="69.47" width="40" height="8.22" fill="#ff1000"/><rect x="618" y="61.75" width="40" height="8.22" fill="#ff0000"/><rect x="618" y="54.03" width="40" height="8.22" fill="#ef0000"/><rect x="618" y="46.31" width="40" height="8.22" fill="#df0000"/><rect x="618" y="38.59" width="40" height="8.22" fill="#cf0000"/><rect x="618" y="30.88" width="40" height="8.22" fill="#bf0000"/><rect x="618" y="23.16" width="40" height="8.22" fill="#af0000"/><rect x="618" y="15.44" width="40" height="8.22" fill="#9f0000"/><rect x="618" y="7.72" width="40" height="8.22" fill="#8f0000"/><rect x="618" y="0" width="40" height="8.22" fill="#800000"/></g>
<rect x="618.45" y="0.4" width="39" height="493" fill="none" stroke="#000" stroke-width="1.35"/>
<text transform="translate(660.3,499.6) scale(1,1.07)" text-anchor="start">0</text>
<text transform="translate(660.3,431.5) scale(1,1.07)" text-anchor="start">0.2</text>
<text transform="translate(660.3,363.4) scale(1,1.07)" text-anchor="start">0.4</text>
<text transform="translate(660.3,295.2) scale(1,1.07)" text-anchor="start">0.6</text>
<text transform="translate(660.3,227.1) scale(1,1.07)" text-anchor="start">0.8</text>
<text transform="translate(660.3,159) scale(1,1.07)" text-anchor="start">1</text>
<text transform="translate(660.3,90.9) scale(1,1.07)" text-anchor="start">1.2</text>
<text transform="translate(660.3,22.8) scale(1,1.07)" text-anchor="start">1.4</text>
<path d="M618 493.3h6M658 493.3h-6M618 425.2h6M658 425.2h-6M618 357.1h6M658 357.1h-6M618 288.9h6M658 288.9h-6M618 220.8h6M658 220.8h-6M618 152.7h6M658 152.7h-6M618 84.6h6M658 84.6h-6M618 16.5h6M658 16.5h-6" stroke="#000" stroke-width="1.25" fill="none"/>
</svg></body></html>
